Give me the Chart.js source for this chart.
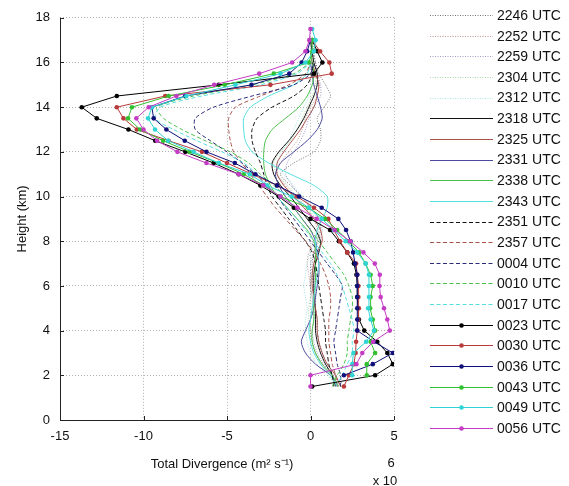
<!DOCTYPE html>
<html><head><meta charset="utf-8">
<script src="https://cdn.jsdelivr.net/npm/chart.js@4"></script>
<style>html,body{margin:0;padding:0;background:#fff}canvas{display:block}</style>
</head><body>
<canvas id="c" width="569" height="486"></canvas>
<script>
// ---------- DATA ----------
const heights = [1.5,2,2.5,3,3.5,4,4.5,5,5.5,6,6.5,7,7.5,8,8.5,9,9.5,10,10.5,11,11.5,12,12.5,13,13.5,14,14.5,15,15.5,16,16.5,17,17.5];
const categories = ['2246 UTC','2252 UTC','2259 UTC','2304 UTC','2312 UTC','2318 UTC','2325 UTC','2331 UTC','2338 UTC','2343 UTC','2351 UTC','2357 UTC','0004 UTC','0010 UTC','0017 UTC','0023 UTC','0030 UTC','0036 UTC','0043 UTC','0049 UTC','0056 UTC'];
const xTicks = [-15,-10,-5,0,5];
const yTicks = [0,2,4,6,8,10,12,14,16,18];

const s2246 = [1.8,1.5,1.0,0.7,0.5,0.4,0.4,0.3,0.3,0.2,0.1,0.1,0.2,0.4,0.6,0.5,0.1,-0.5,-1.2,-1.8,-1.0,0.2,0.6,0.6,0.4,0.8,1.2,0.9,0.5,0.3,0.2,0.1,null];
const s2252 = [1.9,1.2,0.7,0.3,0.1,0.0,0.0,0.1,0.1,0.0,-0.1,-0.2,-0.1,0.2,0.4,0.2,-0.3,-0.9,-1.5,-2.0,-1.8,-1.3,-0.8,-0.5,-0.3,0.0,0.4,0.5,0.4,0.2,0.1,0.0,null];
const s2259 = [2.1,1.4,0.8,0.4,0.2,0.1,0.2,0.2,0.1,0.0,0.0,0.0,0.2,0.5,0.7,0.5,0.0,-0.6,-1.1,-1.5,-1.4,-1.0,-0.6,-0.3,-0.1,0.2,0.6,0.6,0.4,0.3,0.1,0.0,null];
const s2304 = [1.6,1.1,0.6,0.3,0.1,0.0,-0.1,-0.1,0.0,0.0,0.1,0.2,0.3,0.4,0.5,0.3,-0.2,-0.8,-1.4,-2.0,-2.2,-1.8,-1.2,-0.8,-0.5,-0.2,0.1,0.3,0.3,0.2,0.1,0.0,null];
const s2312 = [1.7,1.0,0.4,0.0,-0.2,-0.3,-0.3,-0.2,-0.3,-0.4,-0.3,-0.2,0.0,0.3,0.5,0.4,0.0,-0.5,-1.0,-1.6,-2.0,-1.7,-1.3,-1.0,-0.7,-0.4,-0.1,0.1,0.2,0.1,0.0,0.0,null];
const s2318 = [1.5,1.3,0.9,0.6,0.4,0.3,0.3,0.3,0.2,0.2,0.2,0.3,0.5,0.6,0.3,-0.2,-0.7,-1.2,-1.8,-2.2,-2.3,-1.9,-1.3,-0.8,-0.4,-0.1,0.2,0.4,0.4,0.2,0.1,0.0,null];
const s2325 = [1.8,1.5,1.0,0.7,0.5,0.4,0.4,0.3,0.2,0.1,0.1,0.2,0.4,0.7,0.6,0.2,-0.4,-1.0,-1.6,-2.0,-2.0,-1.6,-1.1,-0.6,-0.2,0.2,0.4,0.5,0.3,0.1,0.0,null,null];
const s2331 = [1.6,1.2,0.3,-0.3,-0.55,-0.3,0.0,0.2,0.3,0.4,0.5,0.5,0.4,0.3,0.0,-0.5,-1.0,-1.5,-1.9,-2.1,-1.8,-1.0,-0.2,0.4,0.7,0.6,0.4,0.2,0.1,0.0,null,null,null];
const s2338 = [1.7,1.3,0.7,0.3,0.1,0.1,0.2,0.2,0.2,0.3,0.3,0.3,0.3,0.2,-0.2,-0.8,-1.4,-2.0,-2.4,-2.7,-2.8,-2.8,-2.7,-2.3,-1.5,-0.7,-0.2,0.1,0.2,0.1,0.0,null,null];
const s2343 = [1.6,1.2,0.6,0.2,0.0,-0.1,0.0,0.1,0.2,0.3,0.4,0.5,0.4,0.3,0.4,0.7,1.0,1.0,0.2,-1.2,-2.5,-3.5,-3.9,-4.0,-4.0,-3.6,-2.5,-1.0,-0.2,0.0,null,null,null];
const s2351 = [1.4,1.3,1.1,1.0,0.9,0.9,0.8,0.7,0.6,0.5,0.4,0.3,0.1,-0.3,-0.8,-1.3,-1.8,-2.3,-2.6,-2.8,-3.0,-3.3,-3.5,-3.5,-3.2,-2.3,-1.0,-0.2,0.1,0.1,null,null,null];
const s2357 = [1.6,1.5,1.3,1.2,1.1,1.1,1.1,1.2,1.2,1.1,0.9,0.6,0.2,-0.3,-0.9,-1.5,-2.1,-2.6,-3.1,-3.6,-4.1,-4.6,-4.8,-4.9,-4.9,-4.5,-3.0,-1.3,-0.3,0.0,null,null,null];
const s0004 = [1.8,1.8,1.6,1.5,1.4,1.5,1.6,1.7,1.8,1.9,1.5,1.0,0.5,0.0,-0.5,-1.0,-1.5,-2.0,-2.6,-3.3,-4.1,-5.0,-6.0,-6.9,-6.9,-5.8,-3.5,-1.0,0.0,0.2,null,null,null];
const s0010 = [1.3,1.6,2.0,2.2,2.2,2.3,2.4,2.5,2.5,2.3,2.0,1.5,1.0,0.5,0.0,-0.5,-1.0,-1.5,-2.2,-3.0,-3.7,-4.8,-6.3,-7.7,-8.8,-9.2,-7.0,-3.5,-1.0,0.0,null,null,null];
const s0017 = [1.5,1.9,2.2,2.5,2.5,2.6,2.5,2.3,2.1,1.9,1.6,1.2,0.7,0.2,-0.3,-0.8,-1.4,-2.0,-2.6,-3.2,-4.0,-5.3,-6.8,-8.2,-9.3,-9.0,-6.5,-3.0,-0.8,0.0,null,null,null];
const s0023 = [0.1,3.87,4.93,4.6,4.0,3.22,2.9,2.85,2.8,2.8,2.75,2.6,2.2,1.7,1.17,0.0,-1.0,-1.9,-3.0,-4.3,-5.8,-7.5,-9.3,-10.9,-12.8,-13.7,-11.6,-5.5,0.21,0.71,0.4,0.1,null];
const s0030 = [2.0,2.3,2.6,2.7,2.73,2.8,2.85,2.9,2.87,2.87,2.8,2.73,2.2,1.77,1.4,1.07,0.21,-0.8,-2.0,-3.5,-5.0,-6.5,-8.5,-10.4,-11.2,-11.6,-8.7,-2.4,1.27,1.13,0.57,0.1,null];
const s0036 = [null,2.0,3.73,4.93,3.8,2.8,2.8,2.8,2.8,2.8,2.8,2.67,2.55,2.4,2.13,1.67,0.67,-0.68,-2.0,-3.3,-4.53,-6.23,-7.53,-8.63,-9.39,-9.5,-7.5,-3.53,-1.27,-0.53,-0.2,0.0,null];
const s0043 = [null,3.37,3.37,3.87,3.6,3.87,3.73,3.57,3.6,3.73,3.6,3.3,2.9,2.3,1.6,0.87,-0.13,-1.8,-2.8,-4.0,-5.5,-7.23,-8.83,-10.2,-10.93,-10.69,-8.49,-5.13,-2.2,-0.1,0.13,0.1,null];
const s0049 = [null,2.5,2.5,2.57,3.33,3.8,3.6,3.45,3.5,3.5,3.5,3.3,2.8,2.1,1.4,0.67,-0.1,-1.13,-2.6,-3.63,-5.5,-7.0,-8.53,-9.31,-9.73,-9.5,-7.43,-4.5,-1.8,-0.3,0.2,0.3,0.1];
const s0056 = [0.0,0.0,2.75,3.1,3.75,4.75,4.6,4.4,4.2,4.13,4.15,3.85,3.17,2.37,1.45,0.37,-0.79,-1.8,-2.83,-4.29,-6.23,-7.97,-9.19,-10.0,-10.43,-9.69,-8.03,-5.77,-3.07,-1.1,-0.3,-0.07,0.0];

const seriesValues = [s2246,s2252,s2259,s2304,s2312,s2318,s2325,s2331,s2338,s2343,s2351,s2357,s0004,s0010,s0017,s0023,s0030,s0036,s0043,s0049,s0056];

// ---------- STYLES ----------
const colors = [
  'rgba(0,0,0,0.55)','rgba(150,60,60,0.55)','rgba(60,60,150,0.5)','rgba(60,160,60,0.45)','rgba(60,200,200,0.45)',
  '#111111','#a8524c','#4b4b9c','#4cc04c','#55dede',
  '#111111','#a8524c','#2b2b7c','#4cc04c','#55dede',
  '#000000','#b83a3a','#10107a','#30c030','#30d4d4','#c43cc4'];
const dashes = [[1,1.5],[1,1.5],[1,1.5],[1,1.5],[1,1.5],[],[],[],[],[],[4,2.5],[4,2.5],[4,2.5],[4,2.5],[4,2.5],[],[],[],[],[],[]];
const markers = [0,0,0,0,0,0,0,0,0,0,0,0,0,0,0,2.3,2.3,2.3,2.3,2.3,2.3];

const FONT = '"Liberation Sans", Arial, Helvetica, sans-serif';

const datasets = seriesValues.map((vals, i) => {
  const pts = [];
  vals.forEach((v, k) => { if (v !== null) pts.push({x: v, y: heights[k]}); });
  return {
    label: categories[i],
    data: pts,
    showLine: true,
    borderColor: colors[i],
    backgroundColor: colors[i],
    borderWidth: 1,
    borderDash: dashes[i],
    pointRadius: markers[i],
    pointBorderWidth: 0,
    pointHoverRadius: markers[i],
    tension: markers[i] ? 0 : 0.25,
    order: 20 - i
  };
});

const decor = {
  id: 'decor',
  afterDraw(chart) {
    const ctx = chart.ctx, xs = chart.scales.x, ys = chart.scales.y, a = chart.chartArea;
    ctx.save();
    ctx.setLineDash([]);
    // solid left & bottom axis lines
    ctx.strokeStyle = '#222'; ctx.lineWidth = 1;
    ctx.beginPath();
    ctx.moveTo(Math.round(a.left) + 0.5, a.top); ctx.lineTo(Math.round(a.left) + 0.5, Math.round(a.bottom) + 0.5);
    ctx.lineTo(a.right, Math.round(a.bottom) + 0.5);
    ctx.stroke();
    // inward ticks
    yTicks.forEach(t => {
      const py = Math.round(ys.getPixelForValue(t)) + 0.5;
      ctx.beginPath(); ctx.moveTo(a.left, py); ctx.lineTo(a.left + 4, py); ctx.stroke();
    });
    xTicks.forEach(t => {
      const px = Math.round(xs.getPixelForValue(t)) + 0.5;
      ctx.beginPath(); ctx.moveTo(px, a.bottom); ctx.lineTo(px, a.bottom - 4); ctx.stroke();
    });
    // titles
    ctx.fillStyle = '#111';
    ctx.font = '13px ' + FONT;
    ctx.textAlign = 'center'; ctx.textBaseline = 'middle';
    ctx.save();
    ctx.translate(22, (a.top + a.bottom) / 2);
    ctx.rotate(-Math.PI / 2);
    ctx.fillText('Height (km)', 0, 0);
    ctx.restore();
    ctx.fillText('Total Divergence (m² s⁻¹)', (a.left + a.right) / 2 - 5, 464);
    ctx.fillText('6', 391, 463);
    ctx.fillText('x 10', 385, 481);
    // legend
    ctx.font = '14px ' + FONT;
    ctx.textAlign = 'left';
    chart.data.datasets.forEach((ds, i) => {
      const y = 15 + i * 20.65;
      ctx.save();
      ctx.strokeStyle = ds.borderColor; ctx.lineWidth = 1;
      ctx.setLineDash(ds.borderDash);
      ctx.beginPath(); ctx.moveTo(430, Math.round(y) + 0.5); ctx.lineTo(493, Math.round(y) + 0.5); ctx.stroke();
      ctx.restore();
      if (ds.pointRadius) {
        ctx.fillStyle = ds.backgroundColor;
        ctx.beginPath(); ctx.arc(461.5, Math.round(y) + 0.5, ds.pointRadius, 0, Math.PI * 2); ctx.fill();
      }
      ctx.fillStyle = '#111';
      ctx.fillText(ds.label, 497, y + 1);
    });
    ctx.restore();
  }
};

new Chart(document.getElementById('c'), {
  type: 'scatter',
  data: { datasets },
  options: {
    responsive: false,
    animation: false,
    layout: { padding: { top: 17, right: 175, left: 0, bottom: 0 } },
    plugins: { legend: { display: false }, tooltip: { enabled: false } },
    scales: {
      x: {
        type: 'linear', min: -15, max: 5,
        afterBuildTicks: s => { s.ticks = xTicks.map(v => ({value: v})); },
        afterFit: s => { s.height = 66; },
        grid: { color: '#b0b0b0', lineWidth: 1, drawTicks: false },
        border: { display: false, dash: [1, 2] },
        ticks: { color: '#111', font: { family: FONT, size: 13 }, padding: 9, maxRotation: 0, callback: v => String(v) }
      },
      y: {
        type: 'linear', min: 0, max: 18,
        afterBuildTicks: s => { s.ticks = yTicks.map(v => ({value: v})); },
        afterFit: s => { s.width = 60; },
        grid: { color: '#b0b0b0', lineWidth: 1, drawTicks: false },
        border: { display: false, dash: [1, 2] },
        ticks: { color: '#111', font: { family: FONT, size: 13 }, padding: 10, callback: v => String(v) }
      }
    }
  },
  plugins: [decor]
});
</script>
</body></html>
